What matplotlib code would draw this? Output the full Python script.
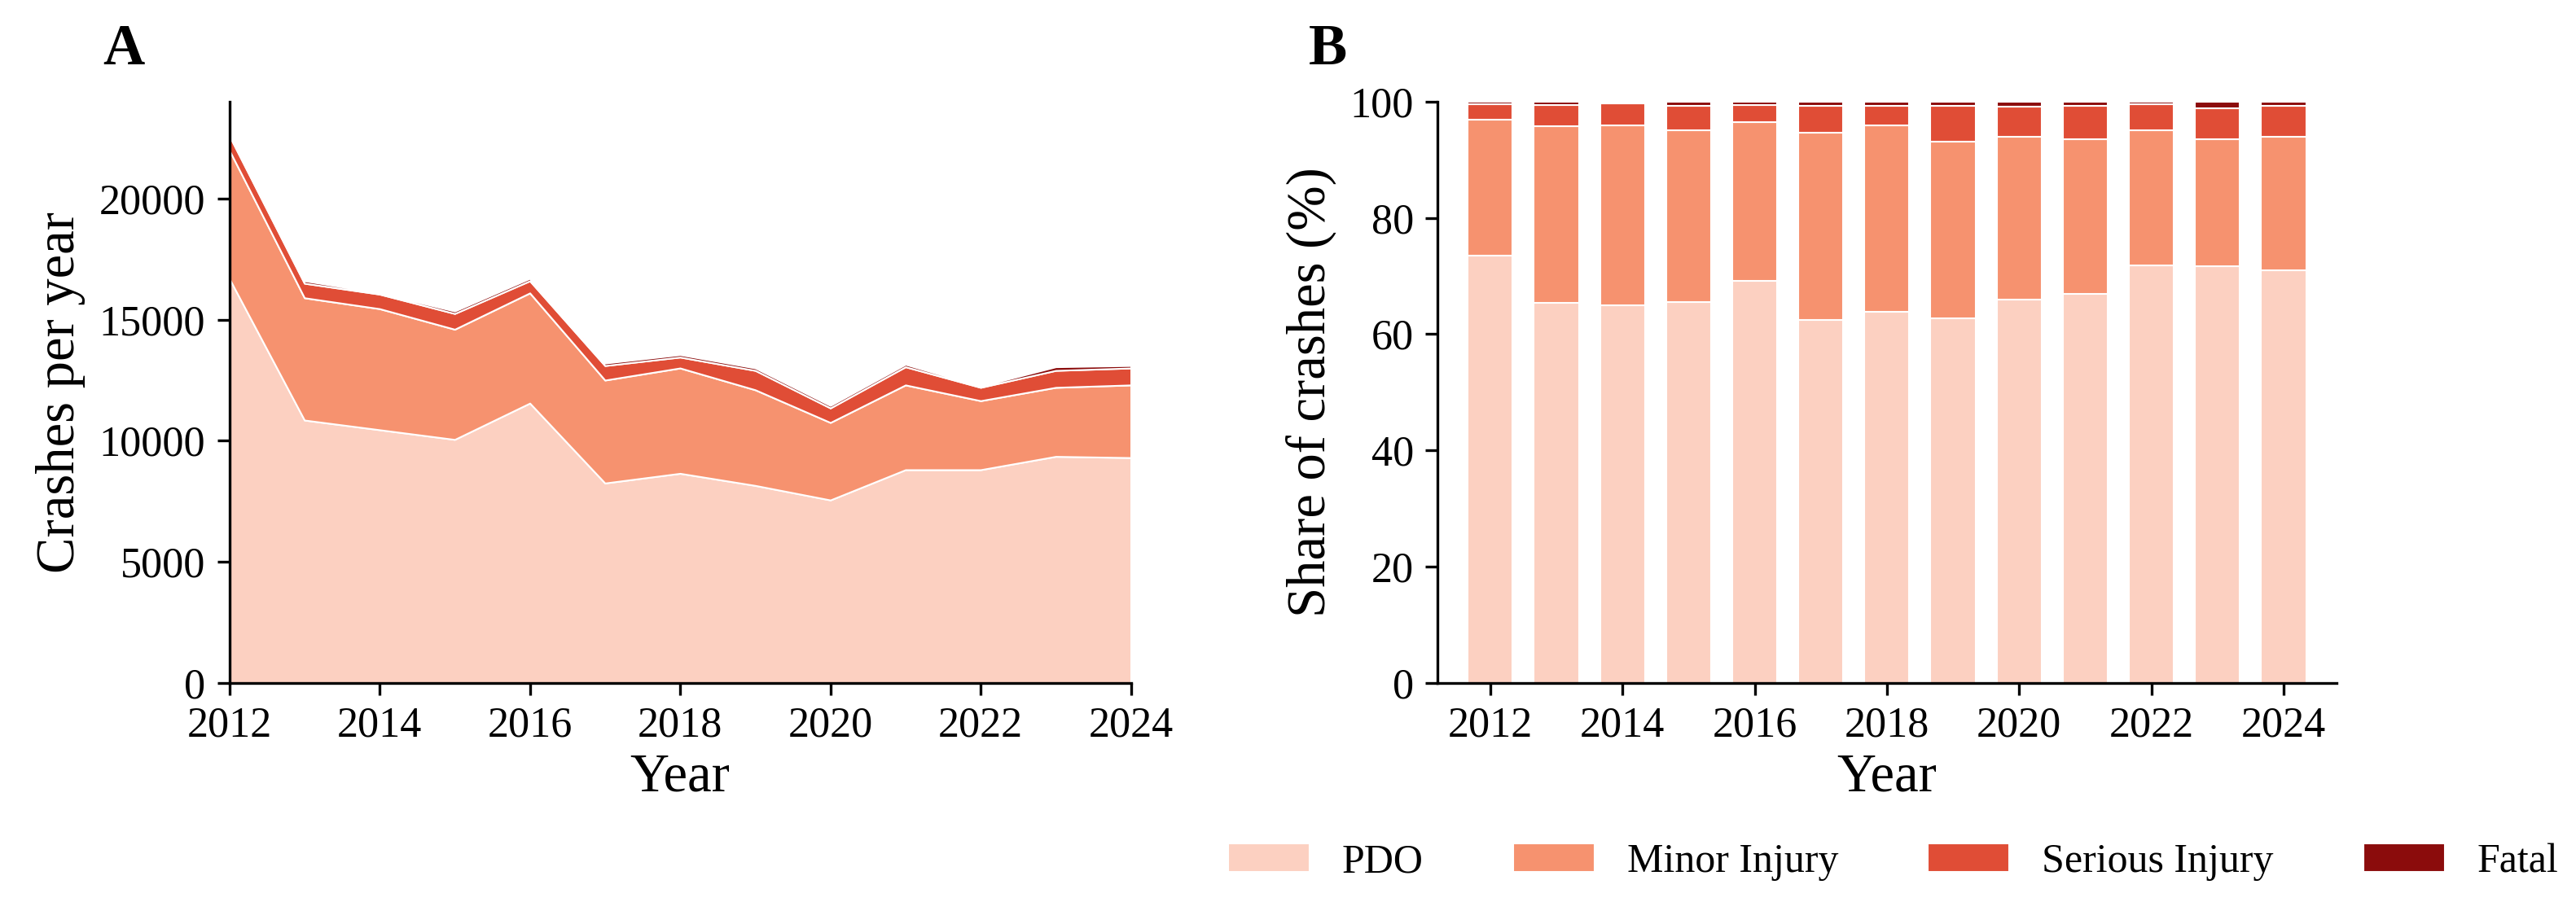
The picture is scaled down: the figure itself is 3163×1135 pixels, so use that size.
import matplotlib
matplotlib.use("Agg")
import matplotlib.pyplot as plt
import numpy as np

plt.rcParams["font.family"] = ["Liberation Serif", "DejaVu Serif"]

years = np.arange(2012, 2025)
pdo = [16700, 10850, 10450, 10050, 11550, 8250, 8650, 8150, 7550, 8800, 8800, 9350, 9300]
minor = [5300, 5050, 5000, 4550, 4550, 4250, 4350, 3950, 3200, 3500, 2850, 2850, 3000]
serious = [600, 600, 600, 650, 500, 600, 450, 800, 600, 750, 550, 700, 700]
fatal = [100, 100, 50, 100, 100, 100, 100, 100, 100, 100, 50, 150, 100]
labels = ["PDO", "Minor Injury", "Serious Injury", "Fatal"]
colors = ["#fcd0c1", "#f6926f", "#e04d36", "#8b0c0c"]

series = np.array([pdo, minor, serious, fatal], dtype=float)
shares = series / series.sum(axis=0) * 100

fig = plt.figure(figsize=(3163 / 300, 1135 / 300), dpi=300)
axA = fig.add_axes([0.089, 0.261, 0.350, 0.629])
axB = fig.add_axes([0.558, 0.261, 0.349, 0.629])

axA.stackplot(years, series, colors=colors, edgecolor="white", linewidth=0.5)
axA.set_xlim(2012, 2024)
axA.set_ylim(0, 24000)
axA.set_xticks(range(2012, 2025, 2))
axA.set_yticks([0, 5000, 10000, 15000, 20000])
axA.set_xlabel("Year", fontsize=16, labelpad=2)
axA.set_ylabel("Crashes per year", fontsize=16)

bottom = np.zeros(len(years))
for s, lab, c in zip(shares, labels, colors):
    axB.bar(years, s, 0.68, bottom=bottom, color=c, edgecolor="white", linewidth=0.5, label=lab)
    bottom += s
axB.set_ylim(0, 100)
axB.set_xlim(2011.2, 2024.8)
axB.set_xticks(range(2012, 2025, 2))
axB.set_xlabel("Year", fontsize=16, labelpad=2)
axB.set_ylabel("Share of crashes (%)", fontsize=16)

for ax, tag, x in [(axA, "A", 0.040), (axB, "B", 0.508)]:
    ax.spines["top"].set_visible(False)
    ax.spines["right"].set_visible(False)
    ax.tick_params(labelsize=12.5)
    fig.text(x, 0.93, tag, fontsize=17, fontweight="bold")

fig.legend(*axB.get_legend_handles_labels(), loc="center", bbox_to_anchor=(0.735, 0.067),
           ncol=4, frameon=False, fontsize=12, columnspacing=2.2, handlelength=2)

fig.savefig("out.png", dpi=300)
